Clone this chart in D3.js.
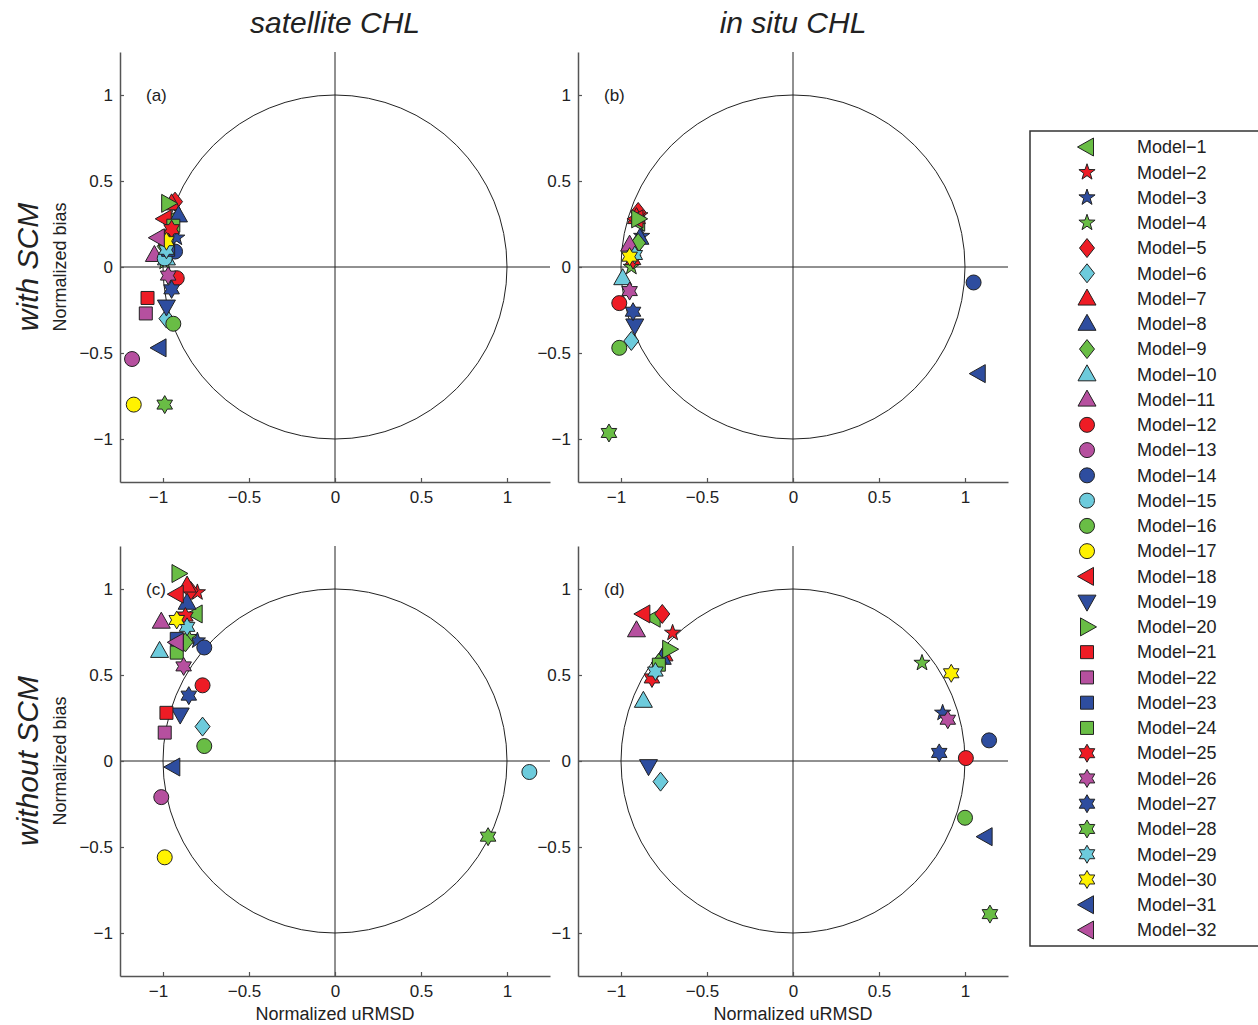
<!DOCTYPE html>
<html><head><meta charset="utf-8">
<script src="https://cdn.jsdelivr.net/npm/d3@7"></script>
<style>
body{margin:0;background:#fff}
svg{display:block}
text{font-family:"Liberation Sans",Arial,Helvetica,sans-serif;fill:#222}
</style>
</head><body>
<svg id="chart" width="1258" height="1025"></svg>
<script>
// ---------------- DATA ----------------
const models = ["Model−1","Model−2","Model−3","Model−4","Model−5","Model−6","Model−7","Model−8",
  "Model−9","Model−10","Model−11","Model−12","Model−13","Model−14","Model−15","Model−16",
  "Model−17","Model−18","Model−19","Model−20","Model−21","Model−22","Model−23","Model−24",
  "Model−25","Model−26","Model−27","Model−28","Model−29","Model−30","Model−31","Model−32"];

const columnTitles = ["satellite CHL", "in situ CHL"];
const rowTitles = ["with SCM", "without SCM"];
const panelLabels = ["(a)", "(b)", "(c)", "(d)"];
const xTicks = [-1, -0.5, 0, 0.5, 1];
const yTicks = [-1, -0.5, 0, 0.5, 1];

// (a) satellite CHL, with SCM
const urmsdA = [-0.96,-0.96,-0.92,-0.99,-0.93,-0.98,-0.95,-0.91,-0.99,-0.98,-1.05,-0.92,-1.18,-0.93,-0.99,-0.94,
                -1.17,-0.99,-0.98,-0.97,-1.09,-1.10,-0.97,-0.94,-0.95,-0.97,-0.95,-0.99,-0.98,-0.98,-1.02,-1.03];
const biasA  = [0.27,0.20,0.17,0.03,0.38,-0.30,0.37,0.30,0.12,0.05,0.07,-0.065,-0.535,0.09,0.05,-0.33,
                -0.80,0.28,-0.23,0.37,-0.18,-0.27,0.10,0.24,0.22,-0.05,-0.13,-0.80,0.10,0.15,-0.47,0.17];
// (b) in situ CHL, with SCM
const urmsdB = [-0.90,-0.89,-0.88,-0.94,-0.90,-0.94,-0.91,-0.89,-0.90,-0.99,-0.95,-1.01,null,1.05,null,-1.01,
                null,-0.91,-0.92,-0.90,null,null,null,null,-0.93,-0.95,-0.93,-1.07,-0.92,-0.95,1.08,null];
const biasB  = [0.26,0.30,0.18,0.00,0.32,-0.43,0.29,0.17,0.14,-0.065,0.13,-0.21,null,-0.09,null,-0.47,
                null,0.28,-0.34,0.28,null,null,null,null,0.04,-0.14,-0.26,-0.965,0.07,0.06,-0.62,null];
// (c) satellite CHL, without SCM
const urmsdC = [-0.81,-0.80,-0.80,-0.85,-0.84,-0.77,-0.86,-0.86,-0.87,-1.02,-1.01,-0.77,-1.01,-0.76,1.13,-0.76,
                -0.99,-0.92,-0.90,-0.91,-0.98,-0.99,-0.92,-0.92,-0.87,-0.88,-0.85,0.89,-0.86,-0.92,-0.94,-0.92];
const biasC  = [0.855,0.98,0.70,0.72,0.99,0.20,1.02,0.92,0.69,0.64,0.81,0.44,-0.21,0.66,-0.064,0.087,
                -0.56,0.97,0.27,1.09,0.28,0.165,0.71,0.63,0.84,0.55,0.38,-0.44,0.78,0.82,-0.035,0.69];
// (d) in situ CHL, without SCM
const urmsdD = [-0.81,-0.70,0.87,0.75,-0.76,-0.77,-0.75,-0.76,-0.78,-0.87,-0.91,1.005,null,1.14,null,1.00,
                null,-0.87,-0.84,-0.72,null,null,null,-0.78,-0.82,0.90,0.85,1.145,-0.80,0.92,1.12,null];
const biasD  = [0.83,0.745,0.28,0.57,0.855,-0.12,0.62,0.60,0.57,0.35,0.76,0.017,null,0.12,null,-0.33,
                null,0.855,-0.03,0.65,null,null,null,0.56,0.48,0.24,0.047,-0.89,0.52,0.51,-0.44,null];

// ---------------- STYLE ----------------
const C = {g:"#69bd45", r:"#ee1c25", b:"#2e4d9f", c:"#6dcbdc", m:"#b6509f", y:"#fff200"};
const modelColor = ["g","r","b","g","r","c","r","b","g","c","m","r","m","b","c","g",
                    "y","r","b","g","r","m","b","g","r","m","b","g","c","y","b","m"].map(k=>C[k]);
const modelShape = ["left","penta","penta","penta","diamond","diamond","up","up","diamond","up","up",
  "circle","circle","circle","circle","circle","circle","left","down","right",
  "square","square","square","square","hexa","hexa","hexa","hexa","hexa","hexa","left","left"];

function starPath(n, R, r){
  const pts=[];
  for(let i=0;i<2*n;i++){
    const a=-Math.PI/2 + i*Math.PI/n, rad = i%2===0?R:r;
    pts.push([rad*Math.cos(a), rad*Math.sin(a)]);
  }
  return "M"+pts.map(p=>p[0].toFixed(2)+","+p[1].toFixed(2)).join("L")+"Z";
}
function poly(pts){return "M"+pts.map(p=>p.join(",")).join("L")+"Z";}
function shapePath(t){
  switch(t){
    case "circle": return d3.path().toString(); // placeholder, handled separately
    case "square": return poly([[-6.5,-6.5],[6.5,-6.5],[6.5,6.5],[-6.5,6.5]]);
    case "diamond": return poly([[0,-9.5],[7.5,0],[0,9.5],[-7.5,0]]);
    case "up": return poly([[0,-9.5],[9,6.5],[-9,6.5]]);
    case "down": return poly([[0,9.5],[9,-6.5],[-9,-6.5]]);
    case "left": return poly([[-9.5,0],[6.5,-9],[6.5,9]]);
    case "right": return poly([[9.5,0],[-6.5,-9],[-6.5,9]]);
    case "penta": return starPath(5, 8.5, 3.4);
    case "hexa": return starPath(6, 9, 5.2);
  }
}
function drawMarker(g, i, x, y){
  const t = modelShape[i];
  if(t==="circle"){
    g.append("circle").attr("cx",x).attr("cy",y).attr("r",7.5)
      .attr("fill",modelColor[i]).attr("stroke","#222").attr("stroke-width",1);
  } else {
    g.append("path").attr("d",shapePath(t)).attr("transform",`translate(${x},${y})`)
      .attr("fill",modelColor[i]).attr("stroke","#222").attr("stroke-width",1).attr("stroke-linejoin","miter");
  }
}

// ---------------- LAYOUT ----------------
const svg = d3.select("#chart");
const W = 430, H = 430;
const panels = [
  {left:120, top:52,  xs:urmsdA, ys:biasA, label:panelLabels[0], row:0, col:0},
  {left:578, top:52,  xs:urmsdB, ys:biasB, label:panelLabels[1], row:0, col:1},
  {left:120, top:546, xs:urmsdC, ys:biasC, label:panelLabels[2], row:1, col:0},
  {left:578, top:546, xs:urmsdD, ys:biasD, label:panelLabels[3], row:1, col:1}
];
const fmt = d => d<0 ? "−"+Math.abs(d) : String(d);

panels.forEach(p=>{
  const x = d3.scaleLinear().domain([-1.25,1.25]).range([0,W]);
  const y = d3.scaleLinear().domain([-1.25,1.25]).range([H,0]);
  const g = svg.append("g").attr("transform",`translate(${p.left},${p.top})`);

  // zero lines
  g.append("line").attr("x1",0).attr("x2",W).attr("y1",y(0)).attr("y2",y(0)).attr("stroke","#222").attr("stroke-width",1);
  g.append("line").attr("x1",x(0)).attr("x2",x(0)).attr("y1",0).attr("y2",H).attr("stroke","#222").attr("stroke-width",1);
  // unit circle
  g.append("ellipse").attr("cx",x(0)).attr("cy",y(0))
    .attr("rx",x(1)-x(0)).attr("ry",y(0)-y(1))
    .attr("fill","none").attr("stroke","#222").attr("stroke-width",1);

  // axes
  const ax = g.append("g").attr("transform",`translate(0,${H})`)
    .call(d3.axisBottom(x).tickValues(xTicks).tickFormat(fmt).tickSizeInner(-4).tickSizeOuter(0).tickPadding(9));
  const ay = g.append("g")
    .call(d3.axisLeft(y).tickValues(yTicks).tickFormat(fmt).tickSizeInner(-4).tickSizeOuter(0).tickPadding(7));
  [ax,ay].forEach(a=>{
    a.select(".domain").attr("stroke","#555").attr("stroke-width",1.5);
    a.selectAll(".tick line").attr("stroke","#555").attr("stroke-width",1.2);
    a.selectAll(".tick text").attr("font-size",17).attr("fill","#222")
      .style("font-family",'"Liberation Sans",Arial,sans-serif');
  });
  ax.selectAll(".tick text").attr("dx", d => d<0 ? -5 : 0);

  // panel label
  g.append("text").attr("x",26).attr("y",y(1)+6).attr("font-size",17).text(p.label);

  // markers
  const mk = g.append("g");
  p.xs.forEach((v,i)=>{
    if(v===null || p.ys[i]===null) return;
    drawMarker(mk, i, x(v), y(p.ys[i]));
  });

  if(p.row===1){
    g.append("text").attr("x",W/2).attr("y",H+44).attr("text-anchor","middle").attr("font-size",18)
      .text("Normalized uRMSD");
  }
  if(p.col===0){
    g.append("text").attr("transform",`translate(${66-p.left},${p.top+ y(0) - p.top}) rotate(-90)`)
      .attr("text-anchor","middle").attr("font-size",18).text("Normalized bias");
    svg.append("text").attr("transform",`translate(38,${p.top + y(0)}) rotate(-90)`)
      .attr("text-anchor","middle").attr("font-size",30).attr("font-style","italic").text(rowTitles[p.row]);
  }
  if(p.row===0){
    svg.append("text").attr("x",p.left + x(0)).attr("y",33).attr("text-anchor","middle")
      .attr("font-size",30).attr("font-style","italic").text(columnTitles[p.col]);
  }
});

// ---------------- LEGEND ----------------
const lg = svg.append("g");
lg.append("rect").attr("x",1030).attr("y",131).attr("width",240).attr("height",815)
  .attr("fill","#fff").attr("stroke","#333").attr("stroke-width",1.5);
const rowStep = (930-147)/31;
models.forEach((m,i)=>{
  const cy = 147 + i*rowStep;
  drawMarker(lg, i, 1087, cy);
  lg.append("text").attr("x",1137).attr("y",cy).attr("dy","0.35em").attr("font-size",18).text(m);
});
</script>
</body></html>
